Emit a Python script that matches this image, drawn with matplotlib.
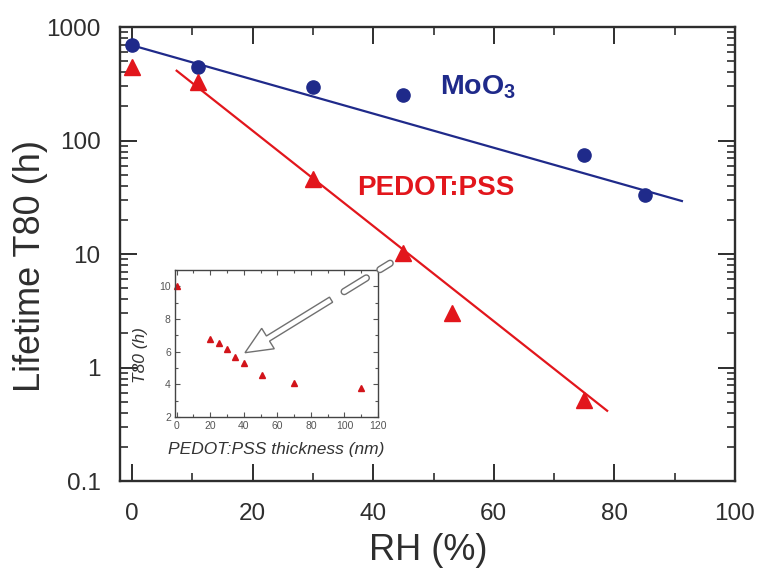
import matplotlib
matplotlib.use("Agg")
import matplotlib.pyplot as plt
from matplotlib.ticker import MultipleLocator, LogLocator, NullFormatter
from matplotlib.patches import FancyArrow
from matplotlib.lines import Line2D
import numpy as np

plt.rcParams['font.family'] = ['Liberation Sans', 'DejaVu Sans']
plt.rcParams['mathtext.fontset'] = 'custom'
plt.rcParams['mathtext.rm'] = 'Liberation Sans'
plt.rcParams['mathtext.bf'] = 'Liberation Sans:bold'

# ---- main data: lifetime vs relative humidity ----
rh_moo3 = [0, 11, 30, 45, 75, 85]
t80_moo3 = [690, 447, 298, 251, 75, 33]
rh_pedot = [0, 11, 30, 45, 53, 75]
t80_pedot = [443, 330, 46, 10.2, 3.0, 0.52]

# fitted trend lines (end points)
fit_moo3_x = [0, 91.2]
fit_moo3_y = [690, 29.3]
fit_pedot_x = [7.4, 78.8]
fit_pedot_y = [412, 0.416]

# ---- inset data: lifetime vs PEDOT:PSS thickness ----
thickness = [0, 20, 25, 30, 35, 40, 51, 70, 110]
t80_thick = [10.0, 6.75, 6.55, 6.15, 5.7, 5.3, 4.6, 4.1, 3.75]

x_ticks = [0, 20, 40, 60, 80, 100]
y_ticks = [0.1, 1, 10, 100, 1000]
y_tick_labels = ['0.1', '1', '10', '100', '1000']
inset_x_ticks = [0, 20, 40, 60, 80, 100, 120]
inset_y_ticks = [2, 4, 6, 8, 10]

BLUE = '#1f2a8a'
RED = '#e2161c'
INK = '#2e2e2e'

fig = plt.figure(figsize=(7.58, 5.70), dpi=100)
ax = fig.add_axes([0.1583, 0.1561, 0.8113, 0.7965])

ax.set_yscale('log')
ax.set_xlim(-2, 100)
ax.set_ylim(0.1, 1000)

ax.plot(fit_moo3_x, fit_moo3_y, color=BLUE, lw=1.6, zorder=2)
ax.plot(fit_pedot_x, fit_pedot_y, color=RED, lw=1.6, zorder=2)
ax.plot(rh_moo3, t80_moo3, 'o', color=BLUE, ms=9.5, mec=BLUE, zorder=3, clip_on=False)
ax.plot(rh_pedot, t80_pedot, '^', color=RED, ms=11, mec=RED, zorder=3, clip_on=False)

ax.text(51, 296, r'$\mathbf{MoO_3}$', color=BLUE, fontsize=20.5, ha='left', va='center')
ax.text(37.4, 38, 'PEDOT:PSS', color=RED, fontsize=20, fontweight='bold',
        ha='left', va='center')

ax.set_xticks(x_ticks)
ax.xaxis.set_minor_locator(MultipleLocator(10))
ax.set_yticks(y_ticks)
ax.set_yticklabels(y_tick_labels)
ax.yaxis.set_minor_locator(LogLocator(base=10, subs=np.arange(2, 10)))
ax.yaxis.set_minor_formatter(NullFormatter())

ax.tick_params(which='both', direction='in', top=True, right=True, colors=INK)
ax.tick_params(which='major', length=12, width=1.4, labelsize=17.5)
ax.tick_params(which='minor', length=6, width=1.2)
ax.tick_params(axis='x', which='major', pad=16)
ax.tick_params(axis='y', which='major', pad=14)
for s in ax.spines.values():
    s.set_linewidth(1.7)
    s.set_color(INK)

fig.text(428 / 758, 1 - 551 / 570, 'RH (%)', fontsize=26, color=INK,
         ha='center', va='center')
fig.text(31 / 758, 1 - 266 / 570, 'Lifetime T80 (h)', fontsize=26, color=INK,
         ha='center', va='center', rotation=90)

# ---- inset ----
ins = fig.add_axes([0.2309, 0.2684, 0.2678, 0.2579])
ins.set_xlim(-1, 120)
ins.set_ylim(2, 11)
ins.plot(thickness, t80_thick, '^', color='#d2141a', ms=4.5, mec='#d2141a', clip_on=False)
ins.set_xticks(inset_x_ticks)
ins.set_yticks(inset_y_ticks)
ins.xaxis.set_minor_locator(MultipleLocator(10))
ins.yaxis.set_minor_locator(MultipleLocator(1))
ins.tick_params(which='both', direction='in', top=True, right=True, colors='#555555',
                labelsize=7.5)
ins.tick_params(which='major', length=3.5, width=0.8, pad=3)
ins.tick_params(which='minor', length=2.5, width=0.8)
for s in ins.spines.values():
    s.set_linewidth(1.0)
    s.set_color('#444444')
ins.set_xlabel('PEDOT:PSS thickness (nm)', fontsize=12.5, style='italic', color='#333333',
               labelpad=8)
ins.set_ylabel('T80 (h)', fontsize=12.5, style='italic', color='#333333')
ins.yaxis.set_label_coords(-0.135, 0.42)

# ---- broken hollow arrow pointing from the PEDOT:PSS point into the inset ----
H = 5.70
start = np.array([392.7, 261.7])
tip = np.array([245.0, 352.7])
u = (tip - start) / np.linalg.norm(tip - start)


def to_in(p):
    return p[0] / 100.0, H - p[1] / 100.0


shaft_w = 0.06
for s0, s1 in [(3, 15), (31, 57)]:
    p0, p1 = to_in(start + s0 * u), to_in(start + s1 * u)
    for lw, col, z in [(shaft_w * 72 + 1.0, '#707070', 5), (shaft_w * 72 - 1.0, 'white', 6)]:
        fig.add_artist(Line2D([p0[0], p1[0]], [p0[1], p1[1]], lw=lw, color=col,
                              solid_capstyle='round', transform=fig.dpi_scale_trans,
                              zorder=z))

a0 = to_in(start + 72.4 * u)
a1 = to_in(tip)
arrow = FancyArrow(a0[0], a0[1], a1[0] - a0[0], a1[1] - a0[1], width=shaft_w,
                   head_width=0.24, head_length=0.27, length_includes_head=True,
                   transform=fig.dpi_scale_trans, fc='white', ec='#707070', lw=1.0,
                   zorder=6)
fig.add_artist(arrow)

fig.savefig('out.png', dpi=100)
